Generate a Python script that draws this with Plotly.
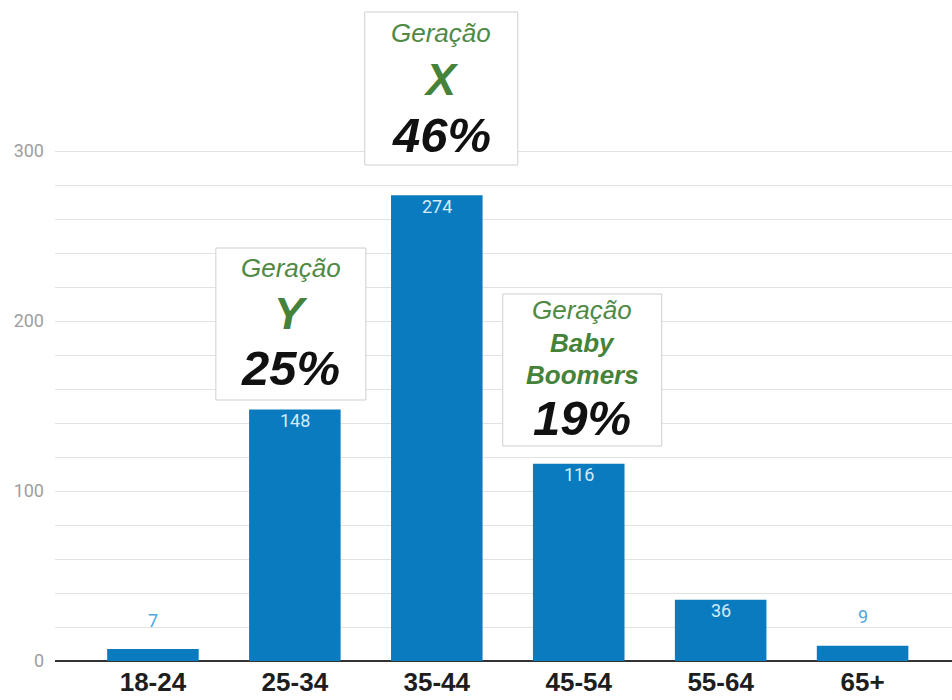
import plotly.graph_objects as go

# ---- data ----
categories = ["18-24", "25-34", "35-44", "45-54", "55-64", "65+"]
counts = [7, 148, 274, 116, 36, 9]
major_ticks = [0, 100, 200, 300]
minor_ticks = [20, 40, 60, 80, 120, 140, 160, 180, 220, 240, 260, 280]

# generation call-out boxes: (category, lines)
gen_boxes = [
    ("25-34", [("Geração", "reg"), ("Y", "big"), ("25%", "pct")]),
    ("35-44", [("Geração", "reg"), ("X", "big"), ("46%", "pct")]),
    ("45-54", [("Geração", "reg"), ("Baby", "mid"), ("Boomers", "mid"), ("19%", "pct")]),
]

# ---- styling / layout geometry (pixels) ----
W, H = 952, 700
PLOT_BOTTOM = 661          # pixel y of the x axis
PX_PER_UNIT = 1.7
BAR_COLOR = "#0a7bbe"
GREEN = "#45823a"

box_geom = {  # category -> (left offset, right offset, top px, bottom px)
    "25-34": (-79, 71, 248, 400),
    "35-44": (-72, 81, 12, 165),
    "45-54": (-76, 83, 294, 446),
}
line_y = {
    "25-34": [268, 313, 368],
    "35-44": [33, 80, 135],
    "45-54": [310, 343, 375, 418],
}
style_font = {
    "reg": dict(size=26, color="#4f8a45"),
    "big": dict(size=45, color=GREEN),
    "mid": dict(size=26, color=GREEN),
    "pct": dict(size=49, color="#111111"),
}

def paper_y(py):
    return (PLOT_BOTTOM - py) / PLOT_BOTTOM

fig = go.Figure()
fig.add_trace(go.Bar(
    x=categories, y=counts, marker=dict(color=BAR_COLOR, line=dict(width=0)),
    width=0.645, hoverinfo="skip",
))

annotations = []
# value labels
for cat, v in zip(categories, counts):
    inside = v > 20
    annotations.append(dict(
        x=cat, y=v, xref="x", yref="y", text=str(v), showarrow=False,
        yanchor="middle", yshift=-11 if inside else 29,
        font=dict(family="Roboto, sans-serif", size=18,
                  color="#d4ebfa" if inside else "#4ea6de"),
    ))

shapes = []
for cat, lines in gen_boxes:
    l, r, t, b = box_geom[cat]
    idx = categories.index(cat)
    shapes.append(dict(
        type="rect", layer="above", xref="x", yref="paper",
        xsizemode="pixel", xanchor=idx, x0=l, x1=r,
        y0=paper_y(b), y1=paper_y(t),
        line=dict(color="#cfcfcf", width=1), fillcolor="white",
    ))
    cx = (l + r) / 2
    for (txt, st), py in zip(lines, line_y[cat]):
        f = dict(family="Liberation Sans, Arial, sans-serif", **style_font[st])
        html = f"<i>{txt}</i>" if st == "reg" else f"<b><i>{txt}</i></b>"
        annotations.append(dict(
            x=cat, y=paper_y(py), xref="x", yref="paper", text=html,
            showarrow=False, xshift=cx, yanchor="middle", xanchor="center",
            font=f,
        ))

fig.update_layout(
    width=W, height=H, autosize=False,
    margin=dict(l=55, r=0, t=0, b=H - PLOT_BOTTOM, pad=0),
    paper_bgcolor="white", plot_bgcolor="white",
    showlegend=False, bargap=0.355,
    shapes=shapes, annotations=annotations,
    xaxis=dict(
        type="category", range=[-0.69, 5.63], showgrid=False, automargin=False,
        showline=False, ticks="", zeroline=False, ticklabelstandoff=3,
        tickfont=dict(family="Liberation Sans, Arial, sans-serif", size=26, color="#1e1e1e"),
        tickprefix="<b>", ticksuffix="</b>",
    ),
    yaxis=dict(
        range=[0, PLOT_BOTTOM / PX_PER_UNIT], tickmode="array", automargin=False,
        tickvals=major_ticks, ticktext=[str(t) for t in major_ticks],
        showgrid=True, gridcolor="#e2e2e2", gridwidth=1,
        zeroline=True, zerolinecolor="#333333", zerolinewidth=2,
        showline=False, ticks="", ticklabelstandoff=10,
        tickfont=dict(family="Roboto, sans-serif", size=18, color="#9e9e9e"),
        minor=dict(tickvals=minor_ticks, showgrid=True, gridcolor="#e2e2e2", gridwidth=1, ticks=""),
    ),
)

fig.write_html("out.html")
